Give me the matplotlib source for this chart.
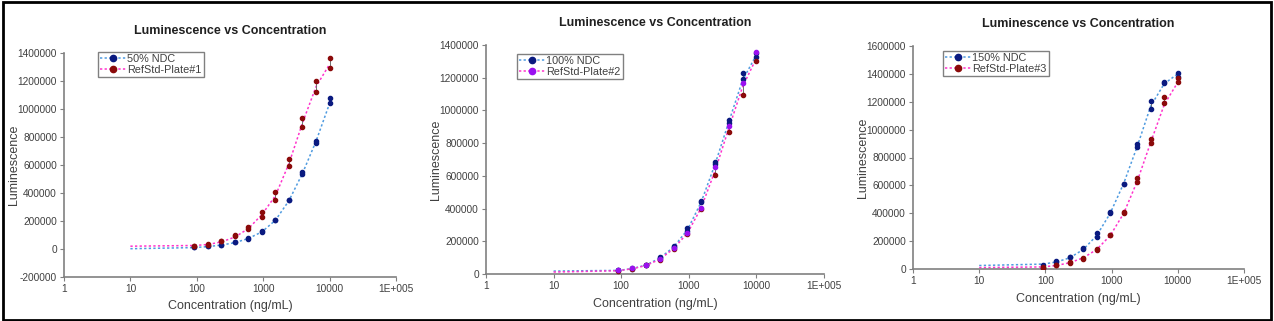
import matplotlib
matplotlib.use('Agg')
import matplotlib.pyplot as plt
from matplotlib.patches import Rectangle

plt.rcParams['font.family'] = ['Liberation Sans', 'DejaVu Sans']

W, H = 1274, 321

# concentrations of the dilution series (ng/mL)
conc = [91, 146, 233, 373, 596, 954, 1526, 2441, 3906, 6250, 10000]
# x positions where the fitted curves were read
fit_x = [10, 91, 146, 233, 373, 596, 954, 1526, 2441, 3906, 6250, 10000]

# panel 1
ndc50_lo = [16000, 24000, 29000, 48000, 74000, 122000, 205000, 348000, 533000, 760000, 1040000]
ndc50_hi = [16000, 24000, 29000, 48000, 78000, 126000, 209000, 352000, 552000, 775000, 1076000]
ref1_lo = [18000, 28000, 55000, 92000, 145000, 231000, 350000, 595000, 874000, 1124000, 1295000]
ref1_hi = [18000, 33000, 60000, 97000, 155000, 267000, 409000, 641000, 938000, 1200000, 1362000]
ndc50_fit = [2000, 10000, 17000, 28000, 45000, 75000, 122000, 205000, 345000, 540000, 770000, 1040000]
ref1_fit = [20000, 25000, 32000, 50000, 85000, 145000, 245000, 380000, 610000, 900000, 1160000, 1320000]

# panel 2
ndc100_lo = [22000, 33000, 55000, 98000, 165000, 265000, 440000, 673000, 925000, 1190000, 1329000]
ndc100_hi = [24000, 35000, 58000, 104000, 172000, 279000, 444000, 687000, 942000, 1231000, 1349000]
ref2_lo = [20000, 32000, 52000, 88000, 150000, 245000, 400000, 605000, 870000, 1094000, 1304000]
ref2_hi = [22000, 34000, 55000, 92000, 157000, 250000, 404000, 656000, 905000, 1170000, 1356000]
ndc100_fit = [18000, 22000, 33000, 55000, 97000, 165000, 270000, 440000, 670000, 930000, 1185000, 1340000]
ref2_fit = [12000, 20000, 32000, 52000, 90000, 155000, 250000, 405000, 630000, 890000, 1145000, 1320000]

# panel 3
ndc150_lo = [10000, 50000, 84000, 144000, 232000, 405000, 608000, 878000, 1148000, 1335000, 1380000]
ndc150_hi = [29000, 54000, 86000, 148000, 256000, 409000, 612000, 895000, 1205000, 1339000, 1404000]
ref3_lo = [9000, 27000, 44000, 75000, 139000, 242000, 402000, 627000, 902000, 1189000, 1344000]
ref3_hi = [15000, 31000, 47000, 79000, 143000, 246000, 406000, 651000, 933000, 1232000, 1368000]
ndc150_fit = [25000, 35000, 50000, 80000, 140000, 240000, 400000, 615000, 880000, 1170000, 1330000, 1400000]
ref3_fit = [10000, 15000, 25000, 45000, 80000, 140000, 240000, 400000, 630000, 910000, 1180000, 1340000]

x_ticks = [1, 10, 100, 1000, 10000, 100000]
x_labels = ["1", "10", "100", "1000", "10000", "1E+005"]

BLUE_LINE = "#4f9be0"
PINK_LINE = "#ff33cc"
NAVY = "#0a1a80"
DARKRED = "#8b0a0a"
PURPLE = "#9a10f0"
TXT = "#404040"

panels = [
    dict(box=(64, 53, 396, 277), ylim=(-200000, 1400000), ystep=200000,
         title_y=31, xlab_y=306, ylab_x=14, legend=(98, 52),
         s1=("50% NDC", ndc50_lo, ndc50_hi, ndc50_fit, NAVY, NAVY),
         s2=("RefStd-Plate#1", ref1_lo, ref1_hi, ref1_fit, DARKRED, DARKRED)),
    dict(box=(486, 45, 824, 274), ylim=(0, 1400000), ystep=200000,
         title_y=23, xlab_y=304, ylab_x=436, legend=(517, 54),
         s1=("100% NDC", ndc100_lo, ndc100_hi, ndc100_fit, NAVY, NAVY),
         s2=("RefStd-Plate#2", ref2_lo, ref2_hi, ref2_fit, PURPLE, DARKRED)),
    dict(box=(913, 46, 1244, 269), ylim=(0, 1600000), ystep=200000,
         title_y=24, xlab_y=299, ylab_x=863, legend=(943, 51),
         s1=("150% NDC", ndc150_lo, ndc150_hi, ndc150_fit, NAVY, NAVY),
         s2=("RefStd-Plate#3", ref3_lo, ref3_hi, ref3_fit, DARKRED, DARKRED)),
]

fig = plt.figure(figsize=(W / 100, H / 100), dpi=100)
fig.patch.set_facecolor("white")
fig.patches.append(Rectangle((0.002, 0.004), 0.996, 0.991, transform=fig.transFigure,
                             fill=False, edgecolor="black", linewidth=2))

for p in panels:
    x0, y0, x1, y1 = p["box"]
    ax = fig.add_axes([x0 / W, 1 - y1 / H, (x1 - x0) / W, (y1 - y0) / H])
    ax.set_xscale("log")
    ax.set_xlim(1, 100000)
    ax.set_ylim(*p["ylim"])
    ax.set_xticks(x_ticks)
    ax.set_xticklabels(x_labels)
    ax.minorticks_off()
    ax.set_yticks(range(p["ylim"][0], p["ylim"][1] + 1, p["ystep"]))
    ax.set_yticklabels([str(v) for v in range(p["ylim"][0], p["ylim"][1] + 1, p["ystep"])])
    for side in ["top", "right"]:
        ax.spines[side].set_visible(False)
    for side in ["left", "bottom"]:
        ax.spines[side].set_color("#808080")
        ax.spines[side].set_linewidth(1.2)
    ax.tick_params(direction="out", length=3, color="#808080", labelsize=7.3,
                   labelcolor=TXT, pad=2)
    ax.patch.set_alpha(0)

    handles = []
    for (name, lo, hi, fit, mcol, locol), lcol in [(p["s1"], BLUE_LINE), (p["s2"], PINK_LINE)]:
        ax.plot(fit_x, fit, linestyle=(0, (1.5, 1.5)), color=lcol, linewidth=1.1, zorder=2)
        ax.vlines(conc, lo, hi, color="#707070", linewidth=0.7, zorder=3)
        ax.plot(conc, lo, "o", color=locol, markersize=3.0, linestyle="none", zorder=4)
        ax.plot(conc, hi, "o", color=mcol, markersize=3.0, linestyle="none", zorder=4)
        h, = ax.plot([], [], linestyle=(0, (1.5, 1.5)), color=lcol, linewidth=1.1,
                     marker="o", markersize=4.5, markerfacecolor=mcol, markeredgecolor=mcol,
                     label=name)
        handles.append(h)

    lx, ly = p["legend"]
    leg = ax.legend(handles=handles, loc="upper left",
                    bbox_to_anchor=(lx / W, 1 - ly / H),
                    bbox_transform=fig.transFigure,
                    fontsize=7.8, frameon=True, fancybox=False, borderpad=0.2,
                    labelspacing=0.05, handlelength=2.4, handletextpad=0.1,
                    borderaxespad=0, labelcolor=TXT)
    leg.get_frame().set_edgecolor("#606060")
    leg.get_frame().set_linewidth(1.0)

    cx = (x0 + x1) / 2 / W
    fig.text(cx, 1 - p["title_y"] / H, "Luminescence vs Concentration", ha="center",
             va="center", fontsize=9, fontweight="bold", color="#202020")
    fig.text(cx, 1 - p["xlab_y"] / H, "Concentration (ng/mL)", ha="center", va="center",
             fontsize=9, color=TXT)
    fig.text(p["ylab_x"] / W, 1 - (y0 + y1) / 2 / H, "Luminescence", ha="center",
             va="center", rotation=90, fontsize=9, color=TXT)

fig.savefig("out.png", dpi=100)
